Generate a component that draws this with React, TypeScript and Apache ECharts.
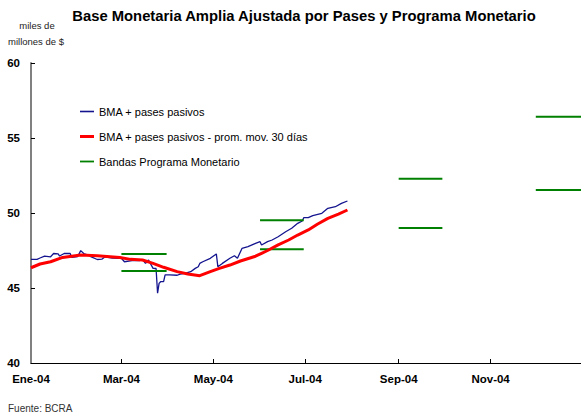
import React, { useEffect, useRef } from "react";
import * as echarts from "echarts";

const titleText = "Base Monetaria Amplia Ajustada por Pases y Programa Monetario";
const unitLines = ["miles de", "millones de $"];
const sourceText = "Fuente: BCRA";

const seriesNames = [
  "BMA + pases pasivos",
  "BMA + pases pasivos - prom. mov. 30 días",
  "Bandas Programa Monetario",
];

const xLabelDates = ["2004-01-01", "2004-03-01", "2004-05-01", "2004-07-01", "2004-09-01", "2004-11-01"];
const xLabels = ["Ene-04", "Mar-04", "May-04", "Jul-04", "Sep-04", "Nov-04"];
const xTickDates = ["2004-03-01", "2004-05-01", "2004-07-01", "2004-09-01", "2004-11-01"];

const blueDates = [
  "2004-01-01", "2004-01-05", "2004-01-07", "2004-01-10", "2004-01-14", "2004-01-16", "2004-01-19", "2004-01-20",
  "2004-01-23", "2004-01-27", "2004-01-28", "2004-02-01", "2004-02-03", "2004-02-05", "2004-02-08", "2004-02-10",
  "2004-02-14", "2004-02-17", "2004-02-19", "2004-02-24", "2004-03-01", "2004-03-03", "2004-03-08", "2004-03-13",
  "2004-03-15", "2004-03-17", "2004-03-19", "2004-03-22", "2004-03-24", "2004-03-25", "2004-03-26", "2004-03-27",
  "2004-03-29", "2004-03-30", "2004-04-02", "2004-04-07", "2004-04-09", "2004-04-12", "2004-04-16", "2004-04-19",
  "2004-04-21", "2004-04-22", "2004-04-24", "2004-04-29", "2004-05-03", "2004-05-04", "2004-05-07", "2004-05-12",
  "2004-05-15", "2004-05-17", "2004-05-20", "2004-05-24", "2004-05-29", "2004-06-01", "2004-06-02", "2004-06-06",
  "2004-06-09", "2004-06-13", "2004-06-18", "2004-06-22", "2004-06-26", "2004-06-29", "2004-06-30", "2004-07-03",
  "2004-07-06", "2004-07-12", "2004-07-16", "2004-07-21", "2004-07-25", "2004-07-29",
];
const blueValues = [
  46.91, 46.91, 47.0, 47.12, 47.08, 47.3, 47.28, 47.13,
  47.3, 47.3, 47.05, 47.1, 47.49, 47.3, 47.2, 47.07,
  46.9, 46.92, 47.07, 47.0, 46.98, 46.75, 46.82, 46.82,
  46.9, 46.64, 46.87, 46.31, 46.3, 44.65, 45.31, 45.42,
  45.42, 45.87, 45.87, 45.85, 45.93, 45.98, 46.09, 46.31,
  46.42, 46.64, 46.75, 46.98, 47.27, 46.42, 46.64, 46.98,
  47.15, 46.98, 47.64, 47.76, 47.98, 48.09, 47.87, 48.09,
  48.2, 48.42, 48.75, 48.98, 49.31, 49.47, 49.69, 49.69,
  49.82, 49.98, 50.31, 50.42, 50.64, 50.8,
];

const redDates = [
  "2004-01-01", "2004-01-07", "2004-01-14", "2004-01-22", "2004-02-03", "2004-02-14", "2004-02-29", "2004-03-07",
  "2004-03-15", "2004-03-22", "2004-03-29", "2004-04-07", "2004-04-14", "2004-04-22", "2004-04-29", "2004-05-05",
  "2004-05-12", "2004-05-19", "2004-05-29", "2004-06-02", "2004-06-06", "2004-06-13", "2004-06-20", "2004-06-26",
  "2004-07-03", "2004-07-09", "2004-07-16", "2004-07-23", "2004-07-29",
];
const redValues = [
  46.35, 46.6, 46.75, 47.04, 47.2, 47.15, 47.04, 46.91,
  46.87, 46.64, 46.38, 46.09, 45.93, 45.82, 46.09, 46.31,
  46.53, 46.8, 47.12, 47.31, 47.5, 47.87, 48.2, 48.53,
  48.87, 49.25, 49.64, 49.93, 50.2,
];

const bandStart = ["2004-03-01", "2004-06-01", "2004-09-01", "2004-12-01"];
const bandEnd = ["2004-03-31", "2004-06-30", "2004-09-30", "2004-12-31"];
const bandUpper = [47.27, 49.51, 52.29, 56.42];
const bandLower = [46.13, 47.58, 49.0, 51.53];

const yMin = 40;
const yMax = 60;
const yStep = 5;

function ts(s: string): number {
  const [y, m, d] = s.split("-").map(Number);
  return Date.UTC(y, m - 1, d);
}

const FONT = "'Liberation Sans', Arial, sans-serif";
const BLUE = "#14148f";
const RED = "#ff0000";
const GREEN = "#008000";

export default function App() {
  const ref = useRef<HTMLDivElement>(null);

  useEffect(() => {
    if (!ref.current) return;
    const chart = echarts.init(ref.current, undefined, { renderer: "svg" });

    const labelTs = xLabelDates.map(ts);
    const bandSeries: any[] = [];
    bandStart.forEach((s, i) => {
      [bandUpper[i], bandLower[i]].forEach((v) => {
        bandSeries.push({
          name: seriesNames[2],
          type: "line",
          symbol: "none",
          lineStyle: { color: GREEN, width: 2 },
          itemStyle: { color: GREEN },
          data: [
            [ts(s), v],
            [ts(bandEnd[i]), v],
          ],
        });
      });
    });

    chart.setOption({
      animation: false,
      textStyle: { fontFamily: FONT },
      grid: { left: 31, right: 0, top: 63, bottom: 54, containLabel: false },
      legend: {
        orient: "vertical",
        left: 80,
        top: 106,
        padding: 0,
        itemWidth: 14,
        itemHeight: 14,
        itemGap: 14,
        textStyle: { fontSize: 11, color: "#000", fontFamily: FONT },
        data: [
          { name: seriesNames[0], icon: "path://M0,0 L14,0 L14,1.6 L0,1.6 Z", itemStyle: { color: BLUE } },
          { name: seriesNames[1], icon: "path://M0,0 L14,0 L14,3 L0,3 Z", itemStyle: { color: RED } },
          { name: seriesNames[2], icon: "path://M0,0 L14,0 L14,1.8 L0,1.8 Z", itemStyle: { color: GREEN } },
        ],
      },
      xAxis: {
        type: "value",
        min: ts("2004-01-01"),
        max: ts("2004-12-31"),
        axisLine: { lineStyle: { color: "#000", width: 1 } },
        axisTick: {
          show: true,
          inside: true,
          length: 4,
          lineStyle: { color: "#000" },
          customValues: xTickDates.map(ts),
        },
        axisLabel: {
          customValues: labelTs,
          formatter: (v: number) => {
            const idx = labelTs.findIndex((t) => Math.abs(t - v) < 43200000);
            return idx >= 0 ? xLabels[idx] : "";
          },
          fontWeight: "bold",
          fontSize: 11.5,
          color: "#000",
          margin: 10,
          fontFamily: FONT,
        },
        splitLine: { show: false },
      },
      yAxis: {
        type: "value",
        min: yMin,
        max: yMax,
        interval: yStep,
        axisLine: { show: true, lineStyle: { color: "#808080", width: 2 } },
        axisTick: { show: true, inside: true, length: 4, lineStyle: { color: "#000" } },
        axisLabel: {
          fontWeight: "bold",
          fontSize: 11.5,
          color: "#000",
          margin: 11,
          fontFamily: FONT,
        },
        splitLine: { show: false },
      },
      graphic: [
        {
          type: "text",
          x: 304,
          y: 8,
          style: {
            text: titleText,
            font: `bold 14.8px ${FONT}`,
            fill: "#000",
            textAlign: "center",
          },
        },
        {
          type: "text",
          x: 37,
          y: 20,
          style: {
            text: unitLines[0],
            font: `9.5px ${FONT}`,
            fill: "#222",
            textAlign: "center",
          },
        },
        {
          type: "text",
          x: 8,
          y: 36,
          style: {
            text: unitLines[1],
            font: `9.5px ${FONT}`,
            fill: "#222",
          },
        },
        {
          type: "text",
          x: 8,
          y: 403,
          style: {
            text: sourceText,
            font: `10px ${FONT}`,
            fill: "#333",
          },
        },
      ],
      series: [
        {
          name: seriesNames[0],
          type: "line",
          symbol: "none",
          lineStyle: { color: BLUE, width: 1.3 },
          itemStyle: { color: BLUE },
          data: blueDates.map((d, i) => [ts(d), blueValues[i]]),
          z: 3,
        },
        {
          name: seriesNames[1],
          type: "line",
          symbol: "none",
          lineStyle: { color: RED, width: 3 },
          itemStyle: { color: RED },
          data: redDates.map((d, i) => [ts(d), redValues[i]]),
          z: 4,
        },
        ...bandSeries,
      ],
    });

    return () => chart.dispose();
  }, []);

  return (
    <div
      ref={ref}
      style={{ position: "absolute", left: 0, top: 0, width: 581, height: 417, background: "#fff" }}
    />
  );
}
